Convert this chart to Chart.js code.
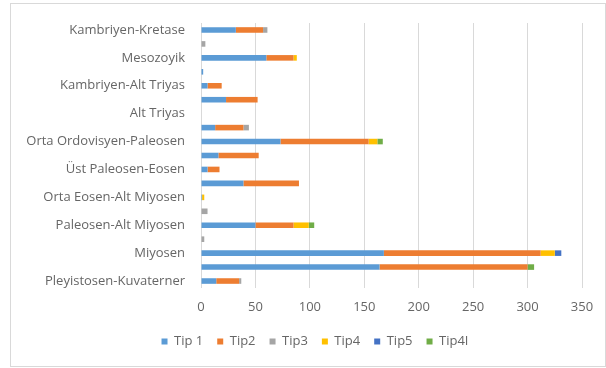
<!DOCTYPE html>
<html>
<head>
<meta charset="utf-8">
<script src="https://cdn.jsdelivr.net/npm/chart.js@4.4.0/dist/chart.umd.min.js"></script>
<style>
  body { margin: 0; background: #fff; }
  #frame { position: absolute; left: 10px; top: 3px; width: 594px; height: 362px; border: 1px solid #d9d9d9; }
  #wrap { position: absolute; left: 0; top: 0; width: 606px; height: 368px; }
</style>
</head>
<body>
<div id="frame"></div>
<div id="wrap"><canvas id="myChart" width="606" height="368"></canvas></div>
<script>
// categories, top to bottom (only every other one is labelled in the original)
const categories = [
  "Kambriyen-Kretase", "",
  "Mesozoyik", "",
  "Kambriyen-Alt Triyas", "",
  "Alt Triyas", "",
  "Orta Ordovisyen-Paleosen", "",
  "Üst Paleosen-Eosen", "",
  "Orta Eosen-Alt Miyosen", "",
  "Paleosen-Alt Miyosen", "",
  "Miyosen", "",
  "Pleyistosen-Kuvaterner"
];

const tip1  = [32, 0, 60, 2, 6, 23, 0, 13, 73, 16, 6, 39, 1, 0, 50, 0, 168, 164, 14];
const tip2  = [25, 0, 25, 0, 13, 29, 0, 26, 81, 37, 11, 51, 0, 0, 35, 0, 144, 136, 21];
const tip3  = [4, 4, 0, 0, 0, 0, 0, 5, 0, 0, 0, 0, 0, 6, 0, 3, 0, 0, 2];
const tip4  = [0, 0, 3, 0, 0, 0, 0, 0, 8, 0, 0, 0, 2, 0, 14, 0, 13, 0, 0];
const tip5  = [0, 0, 0, 0, 0, 0, 0, 0, 0, 0, 0, 0, 0, 0, 0, 0, 6, 0, 0];
const tip4l = [0, 0, 0, 0, 0, 0, 0, 0, 5, 0, 0, 0, 0, 0, 5, 0, 0, 6, 0];

const seriesNames = ["Tip 1", "Tip2", "Tip3", "Tip4", "Tip5", "Tip4I"];
const seriesColors = ["#5b9bd5", "#ed7d31", "#a5a5a5", "#ffc000", "#4472c4", "#70ad47"];
const seriesValues = [tip1, tip2, tip3, tip4, tip5, tip4l];

const xTicks = [0, 50, 100, 150, 200, 250, 300, 350];

const textFont = { family: "'Open Sans', sans-serif", size: 13 };

const datasets = seriesNames.map((name, i) => ({
  label: name,
  data: seriesValues[i],
  backgroundColor: seriesColors[i],
  borderWidth: 0,
  barPercentage: 0.4,
  categoryPercentage: 1,
}));

// legend sits a bit right of centre in the original
const legendShift = {
  id: "legendShift",
  afterLayout: (chart) => {
    chart.legend.left += 19;
    chart.legend.right += 19;
  },
};

var chart = new Chart(document.getElementById("myChart"), {
  type: "bar",
  data: { labels: categories, datasets: datasets },
  options: {
    indexAxis: "y",
    responsive: false,
    animation: false,
    layout: { padding: { left: 10, right: 24, top: 23, bottom: 10 } },
    scales: {
      x: {
        stacked: true,
        min: 0,
        max: 350,
        afterBuildTicks: (scale) => {
          scale.ticks = xTicks.map((v) => ({ value: v }));
        },
        afterFit: (scale) => {
          scale.height = 33;
        },
        grid: { color: "#d9d9d9", drawTicks: false },
        border: { display: false },
        ticks: { color: "#666666", font: textFont, padding: 11 },
      },
      y: {
        stacked: true,
        afterFit: (scale) => {
          scale.width = 191;
        },
        grid: { display: false },
        border: { display: false },
        ticks: { color: "#666666", font: textFont, padding: 8, autoSkip: false },
      },
    },
    plugins: {
      legend: {
        position: "bottom",
        labels: {
          color: "#666666",
          font: textFont,
          boxWidth: 6,
          boxHeight: 6,
          padding: 14,
        },
      },
      tooltip: { enabled: false },
    },
  },
  plugins: [legendShift],
});
</script>
</body>
</html>
